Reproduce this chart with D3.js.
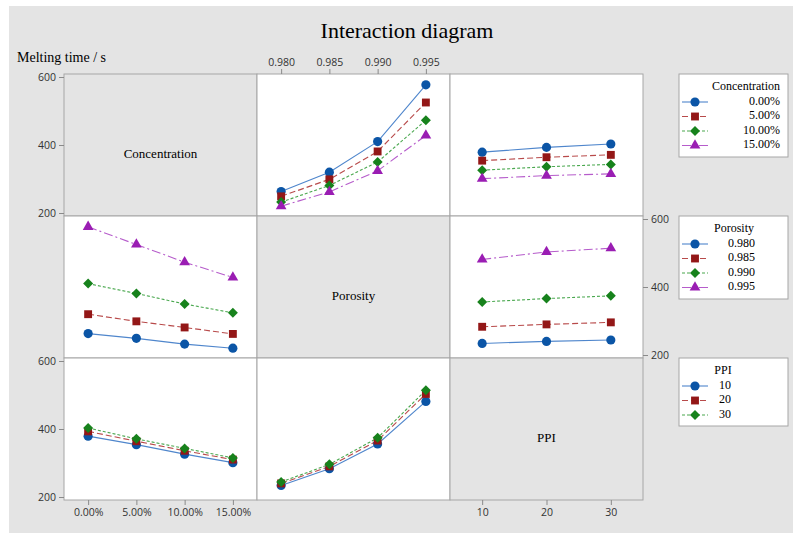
<!DOCTYPE html>
<html>
<head>
<meta charset="utf-8">
<script src="https://cdn.jsdelivr.net/npm/d3@7"></script>
<style>
  body { margin: 0; background: #fff; }
  .tick text { font-family: "Open Sans", sans-serif; font-size: 10.5px; fill: #333; }
  .tick line { stroke: #8a8a8a; }
</style>
</head>
<body>
<div id="chart"></div>
<script>
const width = 793, height = 533

// factor levels
const concentrations = [0, 5, 10, 15]
const concLabels = ["0.00%", "5.00%", "10.00%", "15.00%"]
const porosities = [0.980, 0.985, 0.990, 0.995]
const porLabels = ["0.980", "0.985", "0.990", "0.995"]
const ppis = [10, 20, 30]
const ppiLabels = ["10", "20", "30"]
const yTicks = [200, 400, 600]

// mean melting time (s); rows = concentration, cols = porosity
const timeConcPor = [
    [263, 320, 410, 577],
    [249, 299, 381, 525],
    [232, 281, 350, 473],
    [220, 262, 324, 428]
]
// rows = concentration, cols = PPI
const timeConcPpi = [
    [379, 393, 403],
    [354, 364, 371],
    [326, 336, 343],
    [301, 310, 315]
]
// rows = porosity, cols = PPI
const timePorPpi = [
    [234, 240, 244],
    [283, 290, 296],
    [356, 366, 374],
    [481, 503, 514]
]

const colors = ["#0b55a6", "#931717", "#17821c", "#9a1db3"]
const lineColors = ["#4f86cc", "#b84a4a", "#4aa84f", "#b65ccb"]
const dashes = [null, "6,3", "3,2", "9,3,2,3"]
// diamond = square turned 45 degrees
const symbols = [d3.symbolCircle, d3.symbolSquare, d3.symbolSquare, d3.symbolTriangle]
const symRotate = [0, 0, 45, 0]
const symSizes = [66, 62, 50, 50]

const transpose = m => m[0].map((_, j) => m.map(r => r[j]))

const gridLeft = 64, gridTop = 74, colW = 193, rowH = 142

const svg = d3.select("#chart").append("svg")
    .attr("width", width)
    .attr("height", height)

svg.append("rect")
    .attr("x", 9).attr("y", 6)
    .attr("width", width - 9).attr("height", height - 6)
    .attr("fill", "#e4e4e4")

svg.append("text")
    .attr("x", 407).attr("y", 38)
    .attr("text-anchor", "middle")
    .style("font-family", "Liberation Serif, serif")
    .style("font-size", "22px")
    .text("Interaction diagram")

svg.append("text")
    .attr("x", 17).attr("y", 62)
    .style("font-family", "Liberation Serif, serif")
    .style("font-size", "14px")
    .text("Melting time / s")

// x scales per column
const xConc = d3.scaleLinear().domain([-2.5, 17.5]).range([gridLeft, gridLeft + colW])
const xPor = d3.scaleLinear().domain([0.9775, 0.9975]).range([gridLeft + colW, gridLeft + 2 * colW])
const xPpi = d3.scaleLinear().domain([5, 35]).range([gridLeft + 2 * colW, gridLeft + 3 * colW])
const xScales = [xConc, xPor, xPpi]
const xLevels = [concentrations, porosities, ppis]

function yScale(row) {
    const t = gridTop + row * rowH
    return d3.scaleLinear().domain([200, 600]).range([t + rowH - 3, t + 3])
}

const factorNames = ["Concentration", "Porosity", "PPI"]

// panel backgrounds
for (let r = 0; r < 3; r++) {
    for (let c = 0; c < 3; c++) {
        svg.append("rect")
            .attr("x", gridLeft + c * colW).attr("y", gridTop + r * rowH)
            .attr("width", colW).attr("height", rowH)
            .attr("fill", r == c ? "#e4e4e4" : "#fff")
            .attr("stroke", "#a6a6a6")
            .attr("stroke-width", 1)
        if (r == c) {
            svg.append("text")
                .attr("x", gridLeft + c * colW + colW / 2)
                .attr("y", gridTop + r * rowH + rowH / 2 + 10)
                .attr("text-anchor", "middle")
                .attr("dominant-baseline", "middle")
                .style("font-family", "Liberation Serif, serif")
                .style("font-size", "13px")
                .text(factorNames[c])
        }
    }
}

// panels: row = trace factor, col = x factor
const panels = [
    { r: 0, c: 1, data: timeConcPor },
    { r: 0, c: 2, data: timeConcPpi },
    { r: 1, c: 0, data: transpose(timeConcPor) },
    { r: 1, c: 2, data: timePorPpi },
    { r: 2, c: 0, data: transpose(timeConcPpi) },
    { r: 2, c: 1, data: transpose(timePorPpi) }
]

panels.forEach(p => {
    const x = xScales[p.c]
    const y = yScale(p.r)
    const levels = xLevels[p.c]
    const line = d3.line()
        .x((d, i) => x(levels[i]))
        .y(d => y(d))

    p.data.forEach((series, s) => {
        svg.append("path")
            .datum(series)
            .attr("d", line)
            .attr("fill", "none")
            .attr("stroke", lineColors[s])
            .attr("stroke-width", 1.1)
            .attr("stroke-dasharray", dashes[s])
    })
    p.data.forEach((series, s) => {
        svg.selectAll(null)
            .data(series)
            .enter().append("path")
            .attr("transform", (d, i) => `translate(${x(levels[i])},${y(d)}) rotate(${symRotate[s]})`)
            .attr("d", d3.symbol().type(symbols[s]).size(symSizes[s]))
            .attr("fill", colors[s])
    })
})

// axes
function styleAxis(g) {
    g.select(".domain").remove()
}
const fmtConc = d => concLabels[concentrations.indexOf(d)]
const fmtPor = d => porLabels[porosities.indexOf(d)]
const fmtPpi = d => ppiLabels[ppis.indexOf(d)]

svg.append("g")
    .attr("transform", `translate(${gridLeft},0)`)
    .call(d3.axisLeft(yScale(0)).tickValues(yTicks).tickSize(5).tickPadding(3))
    .call(styleAxis)
svg.append("g")
    .attr("transform", `translate(${gridLeft},0)`)
    .call(d3.axisLeft(yScale(2)).tickValues(yTicks).tickSize(5).tickPadding(3))
    .call(styleAxis)
svg.append("g")
    .attr("transform", `translate(${gridLeft + 3 * colW},0)`)
    .call(d3.axisRight(yScale(1)).tickValues(yTicks).tickSize(5).tickPadding(3))
    .call(styleAxis)

svg.append("g")
    .attr("transform", `translate(0,${gridTop})`)
    .call(d3.axisTop(xPor).tickValues(porosities).tickFormat(fmtPor).tickSize(5).tickPadding(3))
    .call(styleAxis)
svg.append("g")
    .attr("transform", `translate(0,${gridTop + 3 * rowH})`)
    .call(d3.axisBottom(xConc).tickValues(concentrations).tickFormat(fmtConc).tickSize(5).tickPadding(4))
    .call(styleAxis)
svg.append("g")
    .attr("transform", `translate(0,${gridTop + 3 * rowH})`)
    .call(d3.axisBottom(xPpi).tickValues(ppis).tickFormat(fmtPpi).tickSize(5).tickPadding(4))
    .call(styleAxis)

// legends
const legends = [
    { title: "Concentration", labels: concLabels, y: 74, h: 83, titleX: 780, titleAnchor: "end", labelX: 780 },
    { title: "Porosity", labels: porLabels, y: 216, h: 83, titleX: 734, titleAnchor: "middle", labelX: 755 },
    { title: "PPI", labels: ppiLabels, y: 358, h: 68, titleX: 723, titleAnchor: "middle", labelX: 731 }
]

legends.forEach(lg => {
    const g = svg.append("g")
    g.append("rect")
        .attr("x", 679).attr("y", lg.y)
        .attr("width", 109).attr("height", lg.h)
        .attr("fill", "#fff")
        .attr("stroke", "#a6a6a6")
    g.append("text")
        .attr("x", lg.titleX).attr("y", lg.y + 13)
        .attr("text-anchor", lg.titleAnchor)
        .attr("dominant-baseline", "middle")
        .style("font-family", "Liberation Serif, serif")
        .style("font-size", "12px")
        .text(lg.title)
    lg.labels.forEach((lab, i) => {
        const yy = lg.y + 28 + i * 14.5
        g.append("line")
            .attr("x1", 682).attr("x2", 708)
            .attr("y1", yy).attr("y2", yy)
            .attr("stroke", lineColors[i])
            .attr("stroke-width", 1.1)
            .attr("stroke-dasharray", dashes[i])
        g.append("path")
            .attr("transform", `translate(695,${yy}) rotate(${symRotate[i]})`)
            .attr("d", d3.symbol().type(symbols[i]).size(symSizes[i]))
            .attr("fill", colors[i])
        g.append("text")
            .attr("x", lg.labelX).attr("y", yy)
            .attr("text-anchor", "end")
            .attr("dominant-baseline", "middle")
            .style("font-family", "Liberation Serif, serif")
            .style("font-size", "12px")
            .text(lab)
    })
})
</script>
</body>
</html>
